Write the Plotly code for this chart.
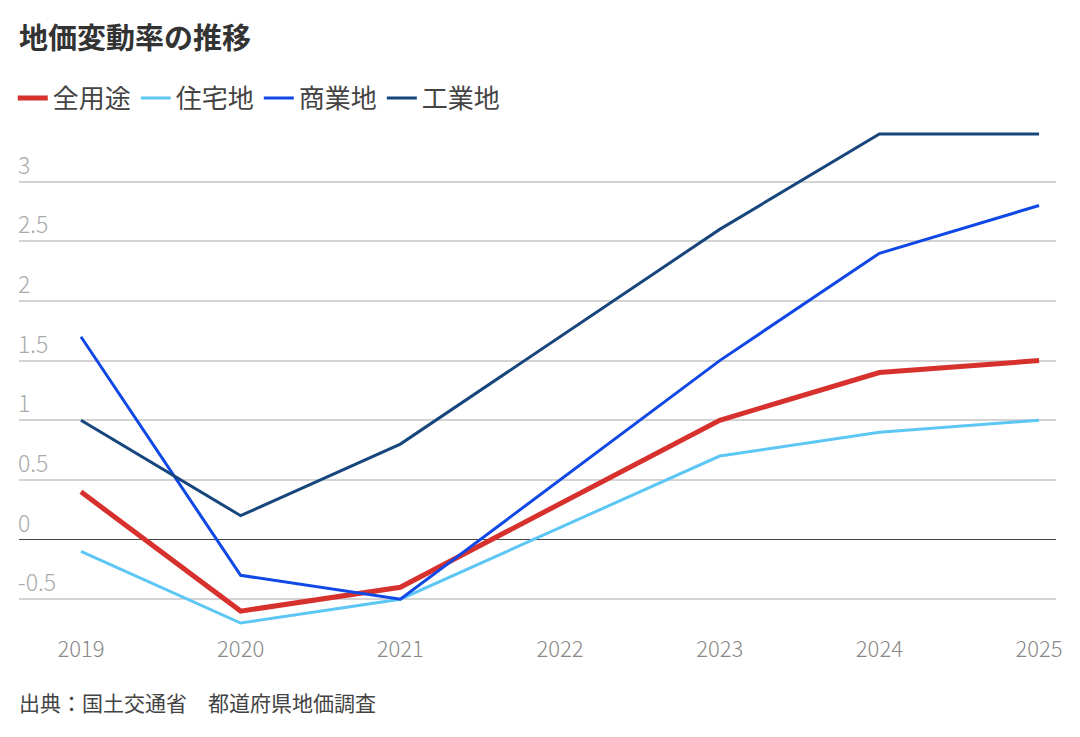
import plotly.graph_objects as go

years = [2019, 2020, 2021, 2022, 2023, 2024, 2025]
all_use = [0.4, -0.6, -0.4, 0.3, 1.0, 1.4, 1.5]
residential = [-0.1, -0.7, -0.5, 0.1, 0.7, 0.9, 1.0]
commercial = [1.7, -0.3, -0.5, 0.5, 1.5, 2.4, 2.8]
industrial = [1.0, 0.2, 0.8, 1.7, 2.6, 3.4, 3.4]

series = [
    ("全用途", all_use, "#d7312e", 5),
    ("住宅地", residential, "#5cc6f4", 3),
    ("商業地", commercial, "#1048e6", 3),
    ("工業地", industrial, "#17467c", 3),
]

y_ticks = [-0.5, 0, 0.5, 1, 1.5, 2, 2.5, 3]
y_tick_labels = ["-0.5", "0", "0.5", "1", "1.5", "2", "2.5", "3"]

JP = "Noto Sans CJK JP"

fig = go.Figure()
for name, vals, color, w in series:
    fig.add_trace(go.Scatter(x=years, y=vals, mode="lines", name=name,
                             line=dict(color=color, width=w)))

# page has an 8px body margin
OFF = 8
W, H = 1064, 721
ml, mr, mt, mb = 5, 16, 120, 100
ph = H - mt - mb

def py(page_pix):
    pix = page_pix - OFF
    return (H - mb - pix) / ph

fig.update_layout(
    width=W, height=H,
    margin=dict(l=ml, r=mr, t=mt, b=mb),
    paper_bgcolor="white", plot_bgcolor="white",
    font=dict(family=JP, color="#444"),
    showlegend=True,
    legend=dict(orientation="h", x=-0.006, xanchor="left", y=py(98), yanchor="middle",
                font=dict(size=26, color="#444", family=JP), itemwidth=30,
                bgcolor="rgba(0,0,0,0)", tracegroupgap=0, traceorder="normal"),
    xaxis=dict(range=[2018.612, 2025.106], tickmode="array", tickvals=years,
               ticktext=[str(y) for y in years], showgrid=False, zeroline=False,
               showline=False, ticks="", ticklabelstandoff=5,
               tickfont=dict(size=22, color="#888", family=JP, weight=300)),
    yaxis=dict(range=[-0.75, 3.45], tickmode="array", tickvals=y_ticks,
               ticktext=y_tick_labels, showgrid=True, gridcolor="#d3d3d3", gridwidth=1.5,
               zeroline=True, zerolinecolor="#444", zerolinewidth=1.2,
               ticklabelposition="inside top", ticks="", showline=False,
               ticklabelstandoff=-4,
               tickfont=dict(size=23, color="#aaa", family=JP, weight=300)),
    annotations=[
        dict(text="<b>地価変動率の推移</b>", xref="paper", yref="paper", x=0, y=py(36),
             xanchor="left", yanchor="middle", showarrow=False, xshift=-2,
             font=dict(size=29, color="#333", family=JP)),
        dict(text="出典：国土交通省　都道府県地価調査", xref="paper", yref="paper", x=0, y=py(702),
             xanchor="left", yanchor="middle", showarrow=False, xshift=-2,
             font=dict(size=21, color="#444", family=JP)),
    ],
)

fig.write_html("out.html")
